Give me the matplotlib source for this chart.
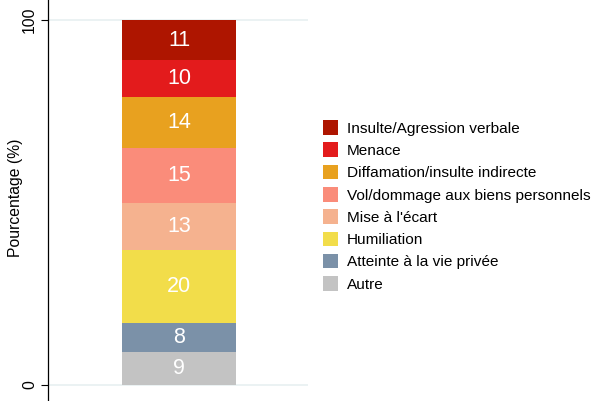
import matplotlib
matplotlib.use("Agg")
import matplotlib.pyplot as plt
from matplotlib.patches import Patch

plt.rcParams['font.family'] = ['Liberation Sans', 'DejaVu Sans']

categories = ["Autre", "Atteinte à la vie privée", "Humiliation", "Mise à l'écart",
              "Vol/dommage aux biens personnels", "Diffamation/insulte indirecte",
              "Menace", "Insulte/Agression verbale"]
values = [9, 8, 20, 13, 15, 14, 10, 11]
colors = ["#c3c3c3", "#7b91a8", "#f2dd4a", "#f5b28f", "#fa8c7a", "#e8a11f",
          "#e31b1c", "#ae1500"]
yticks = [0, 100]

W, H = 598, 401
fig = plt.figure(figsize=(W/100, H/100), dpi=100)
ppu = (385 - 20) / 100.0
ytop = 100 + 20 / ppu
ybot = -(H - 385) / ppu
ax = fig.add_axes([48/W, 0, (308-48)/W, 1])
ax.set_ylim(ybot, ytop)
ax.set_xlim(0, 1)

x0 = (122 - 48) / (308 - 48)
x1 = (236 - 48) / (308 - 48)
bottom = 0
for v, c in zip(values, colors):
    ax.bar((x0 + x1) / 2, v, width=x1 - x0, bottom=bottom, color=c, zorder=3)
    ax.text((x0 + x1) / 2, bottom + v / 2, str(v), color="white", ha="center",
            va="center", fontsize=15.5, zorder=4)
    bottom += v

for t in yticks:
    ax.axhline(t, color="#e8f0f1", lw=1.2, zorder=1)

ax.set_yticks(yticks)
ax.set_yticklabels([str(t) for t in yticks], rotation=90, va="center", fontsize=11.3)
ax.tick_params(axis="y", length=5, width=0.8, pad=3)
ax.set_xticks([])
for s in ["top", "right", "bottom"]:
    ax.spines[s].set_visible(False)
ax.spines["left"].set_linewidth(0.9)
fig.text(16/W, 1 - 198/H, "Pourcentage (%)", rotation=90, ha="center",
         va="center", fontsize=11.3)

handles = [Patch(facecolor=c, edgecolor="none") for c in colors[::-1]]
fig.legend(handles, categories[::-1], loc="upper left",
           bbox_to_anchor=(317/W, 1 - 114/H), frameon=False, fontsize=11.1,
           handlelength=0.95, handleheight=1.07, handletextpad=0.6,
           labelspacing=0.44, borderaxespad=0)

fig.savefig("out.png", dpi=100)
